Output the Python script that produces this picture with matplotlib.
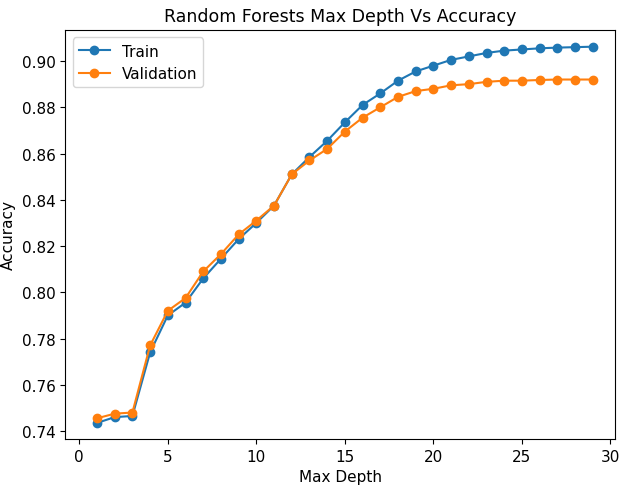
import matplotlib
matplotlib.use("Agg")
import matplotlib.pyplot as plt

depth = list(range(1, 30))
train = [0.7435, 0.746, 0.7465, 0.774, 0.790, 0.7955, 0.806, 0.8145, 0.823, 0.830,
         0.8375, 0.851, 0.8585, 0.8655, 0.8735, 0.881, 0.886, 0.8915, 0.8955, 0.898,
         0.9005, 0.902, 0.9035, 0.9045, 0.905, 0.9055, 0.9058, 0.906, 0.9062]
val = [0.7455, 0.7475, 0.748, 0.777, 0.792, 0.7975, 0.809, 0.8165, 0.825, 0.831,
       0.8375, 0.851, 0.857, 0.862, 0.8695, 0.8755, 0.880, 0.8845, 0.887, 0.888,
       0.8895, 0.890, 0.891, 0.8915, 0.8915, 0.8918, 0.892, 0.892, 0.892]

plt.rcParams['font.size'] = 11
fig = plt.figure(figsize=(6.28, 4.89), dpi=100)
ax = fig.add_axes([0.104, 0.10, 0.876, 0.837])
ax.plot(depth, train, marker='o', color='#1f77b4', label='Train')
ax.plot(depth, val, marker='o', color='#ff7f0e', label='Validation')
ax.set_xlim(-0.79, 30.28)
ax.set_ylim(0.7365, 0.9135)
ax.set_xticks([0, 5, 10, 15, 20, 25, 30])
ax.set_yticks([0.74, 0.76, 0.78, 0.80, 0.82, 0.84, 0.86, 0.88, 0.90])
ax.set_xlabel('Max Depth')
ax.set_ylabel('Accuracy')
ax.set_title('Random Forests Max Depth Vs Accuracy', fontsize=12.5)
ax.legend(loc='upper left')
fig.savefig('out.png', dpi=100)
